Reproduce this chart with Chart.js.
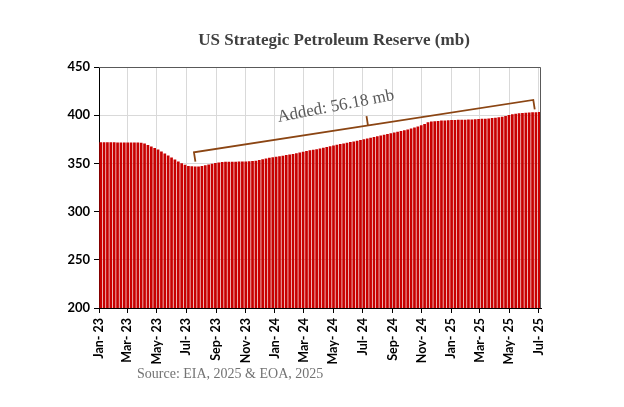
<!DOCTYPE html>
<html>
<head>
<meta charset="utf-8">
<script src="https://cdn.jsdelivr.net/npm/chart.js@4.4.1/dist/chart.umd.min.js"></script>
<style>
  html, body { margin: 0; padding: 0; background: #fff; }
  #wrap { width: 624px; height: 407px; }
</style>
</head>
<body>
<div id="wrap"><canvas id="sprChart" width="624" height="407"></canvas></div>
<script>
// Settimane (inizio settimana), a partire dal 1 gennaio 2023
const firstWeek = '2023-01-01';

// Riserva strategica USA, milioni di barili
const reserve = [
  372.0, 372.0, 372.0, 372.0, 372.0, 371.8, 371.8, 371.8, 371.8, 371.6,
  371.6, 371.6, 371.4, 370.6, 369.2, 367.6, 366.0, 364.3, 362.4, 360.3,
  358.2, 356.0, 354.0, 352.0, 350.2, 348.6, 347.3, 347.0, 346.8, 346.8,
  347.2, 348.0, 348.8, 349.6, 350.4, 351.0, 351.4, 351.6, 351.6, 351.7,
  351.8, 351.9, 352.0, 352.1, 352.3, 352.5, 352.8, 353.5, 354.2, 355.0,
  355.8, 356.4, 356.9, 357.4, 358.0, 358.6, 359.2, 359.8, 360.6, 361.4,
  362.2, 362.9, 363.6, 364.2, 364.8, 365.5, 366.2, 366.9, 367.7, 368.5,
  369.3, 370.0, 370.7, 371.4, 372.1, 372.8, 373.5, 374.2, 375.0, 375.8,
  376.6, 377.4, 378.2, 379.0, 379.8, 380.6, 381.4, 382.1, 382.8, 383.5,
  384.3, 385.2, 386.2, 387.2, 388.3, 389.6, 391.0, 392.6, 393.4, 393.8,
  394.1, 394.4, 394.6, 394.8, 395.0, 395.1, 395.2, 395.3, 395.4, 395.5,
  395.6, 395.8, 396.0, 396.2, 396.4, 396.7, 397.0, 397.4, 397.8, 398.4,
  399.2, 400.2, 401.0, 401.6, 402.0, 402.3, 402.6, 402.8, 403.0, 403.1,
  403.2
];

// Etichette asse X (ogni due mesi)
const tickDates = [
  '2023-01-01', '2023-03-01', '2023-05-01', '2023-07-01', '2023-09-01', '2023-11-01',
  '2024-01-01', '2024-03-01', '2024-05-01', '2024-07-01', '2024-09-01', '2024-11-01',
  '2025-01-01', '2025-03-01', '2025-05-01', '2025-07-01'
];
const tickLabels = [
  'Jan- 23', 'Mar- 23', 'May- 23', 'Jul- 23', 'Sep- 23', 'Nov- 23',
  'Jan- 24', 'Mar- 24', 'May- 24', 'Jul- 24', 'Sep- 24', 'Nov- 24',
  'Jan- 25', 'Mar- 25', 'May- 25', 'Jul- 25'
];
const yTicks = [200, 250, 300, 350, 400, 450];

const titleText = 'US Strategic Petroleum Reserve (mb)';
const sourceText = 'Source: EIA, 2025 & EOA, 2025';
const noteText = 'Added: 56.18 mb';

const DAY = 86400000;
const origin = Date.parse(firstWeek);
function dayOf(s) {
  return (Date.parse(s) - origin) / DAY;
}

// Ogni barra sta al centro della sua settimana
const points = reserve.map((v, i) => ({ x: i * 7 + 3.5, y: v }));
const xMax = reserve.length * 7;

// Titolo, fonte, bordo e parentesi "Added"
const extrasPlugin = {
  id: 'extras',
  afterDatasetsDraw(chart) {
    const { ctx, chartArea: a, scales } = chart;
    const x = scales.x, y = scales.y;
    ctx.save();

    // bordo superiore e destro
    ctx.strokeStyle = '#595959';
    ctx.lineWidth = 1;
    ctx.beginPath();
    ctx.moveTo(a.left, a.top + 0.5);
    ctx.lineTo(a.right - 0.5, a.top + 0.5);
    ctx.lineTo(a.right - 0.5, a.bottom);
    ctx.stroke();

    // parentesi
    const p0 = { x: x.getPixelForValue(197), y: y.getPixelForValue(361.5) };
    const p1 = { x: x.getPixelForValue(901), y: y.getPixelForValue(415.8) };
    const dx = p1.x - p0.x, dy = p1.y - p0.y;
    const len = Math.hypot(dx, dy);
    const nx = -dy / len, ny = dx / len; // perpendicolare verso il basso
    const tick = 9.5;
    const pm = { x: x.getPixelForValue(558), y: 0 };
    pm.y = p0.y + (pm.x - p0.x) * dy / dx;

    ctx.strokeStyle = '#8B4513';
    ctx.lineWidth = 1.8;
    ctx.beginPath();
    ctx.moveTo(p0.x + nx * tick, p0.y + ny * tick);
    ctx.lineTo(p0.x, p0.y);
    ctx.lineTo(p1.x, p1.y);
    ctx.lineTo(p1.x + nx * tick, p1.y + ny * tick);
    ctx.moveTo(pm.x, pm.y);
    ctx.lineTo(pm.x - nx * tick, pm.y - ny * tick);
    ctx.stroke();

    // testo inclinato
    ctx.translate(x.getPixelForValue(493), y.getPixelForValue(404.5));
    ctx.rotate(-10.8 * Math.PI / 180);
    ctx.fillStyle = '#595959';
    ctx.font = '17px "Liberation Serif", "DejaVu Serif", serif';
    ctx.textAlign = 'center';
    ctx.textBaseline = 'alphabetic';
    ctx.fillText(noteText, 0, 0);
    ctx.restore();

    ctx.save();
    ctx.fillStyle = '#404040';
    ctx.font = 'bold 17px "Liberation Serif", "DejaVu Serif", serif';
    ctx.textAlign = 'center';
    ctx.textBaseline = 'middle';
    ctx.fillText(titleText, 334, 41);

    ctx.fillStyle = '#737373';
    ctx.font = '14px "Liberation Serif", "DejaVu Serif", serif';
    ctx.textAlign = 'left';
    ctx.fillText(sourceText, 137, 374);
    ctx.restore();
  }
};

new Chart(document.getElementById('sprChart'), {
  type: 'bar',
  data: {
    datasets: [{
      data: points,
      backgroundColor: '#C80000',
      borderWidth: 0,
      barPercentage: 0.8,
      categoryPercentage: 1.0
    }]
  },
  options: {
    responsive: false,
    animation: false,
    layout: { padding: { left: 54, right: 83, top: 67, bottom: 39 } },
    plugins: {
      legend: { display: false },
      title: { display: false },
      tooltip: { enabled: false }
    },
    scales: {
      x: {
        type: 'linear',
        min: 0,
        max: xMax,
        offset: false,
        afterBuildTicks(scale) {
          scale.ticks = tickDates.map(d => ({ value: dayOf(d) }));
        },
        afterFit(scale) { scale.height = 60; },
        ticks: {
          autoSkip: false,
          minRotation: 90,
          maxRotation: 90,
          padding: 5,
          color: '#000',
          font: { family: 'Lato, "Liberation Sans", sans-serif', weight: 'bold', size: 12.5 },
          callback(value) {
            const i = tickDates.findIndex(d => dayOf(d) === value);
            return i >= 0 ? tickLabels[i] : '';
          }
        },
        grid: {
          offset: false,
          color: '#d9d9d9',
          tickColor: '#000',
          tickLength: 5
        },
        border: { color: '#000', width: 1 }
      },
      y: {
        min: 200,
        max: 450,
        afterBuildTicks(scale) {
          scale.ticks = yTicks.map(v => ({ value: v }));
        },
        afterFit(scale) { scale.width = 45; },
        ticks: {
          padding: 4,
          color: '#000',
          font: { family: 'Lato, "Liberation Sans", sans-serif', weight: 'bold', size: 13 }
        },
        grid: {
          color: '#d9d9d9',
          tickColor: '#000',
          tickLength: 5
        },
        border: { color: '#000', width: 1 }
      }
    }
  },
  plugins: [extrasPlugin]
});
</script>
</body>
</html>
